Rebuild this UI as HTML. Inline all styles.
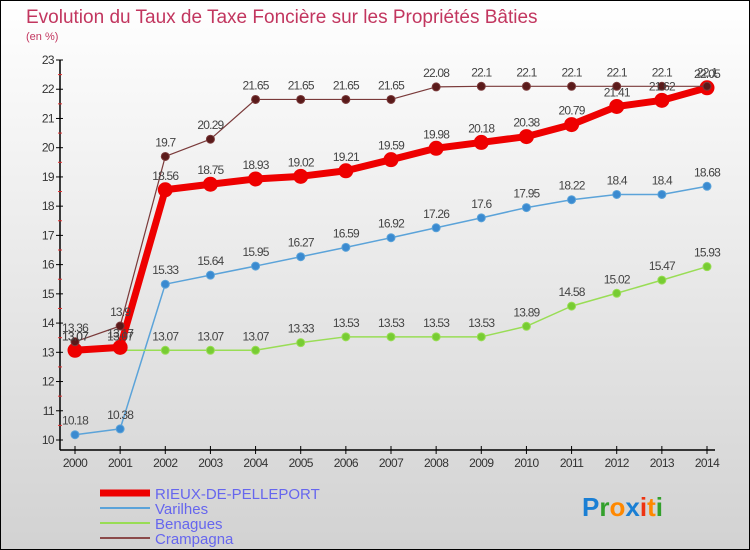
<!DOCTYPE html>
<html><head><meta charset="utf-8"><style>
html,body{margin:0;padding:0;width:750px;height:550px;overflow:hidden}
svg{display:block;font-family:"Liberation Sans",sans-serif}
</style></head><body>
<svg id="c" width="750" height="550">
<defs><linearGradient id="bg" x1="0" y1="0" x2="0" y2="1"><stop offset="0" stop-color="#ffffff"/><stop offset="1" stop-color="#d2d2d2"/></linearGradient></defs>
<rect x="0.5" y="0.5" width="749" height="549" fill="url(#bg)" stroke="#000"/>
<text x="26" y="23" font-size="19" fill="#c2365f">Evolution du Taux de Taxe Foncière sur les Propriétés Bâties</text>
<text x="26" y="40" font-size="11" fill="#c2365f">(en %)</text>
<g id="axes"></g><g id="series"></g><g id="labels"></g>
<g font-size="15" fill="#6666ee">
<line x1="100" y1="493" x2="150" y2="493" stroke="#ee0000" stroke-width="7"/>
<text x="155" y="499">RIEUX-DE-PELLEPORT</text>
<line x1="100" y1="508" x2="150" y2="508" stroke="#5ba3d9" stroke-width="2"/>
<text x="155" y="514">Varilhes</text>
<line x1="100" y1="523" x2="150" y2="523" stroke="#99dd55" stroke-width="2"/>
<text x="155" y="529">Benagues</text>
<line x1="100" y1="538" x2="150" y2="538" stroke="#8b4a4a" stroke-width="2"/>
<text x="155" y="544">Crampagna</text>
</g>
<text x="582" y="516" font-size="26" font-weight="bold"><tspan fill="#1a7fd4">P</tspan><tspan fill="#33a02c">r</tspan><tspan fill="#ff8800">o</tspan><tspan fill="#1a7fd4">x</tspan><tspan fill="#ee3311">i</tspan><tspan fill="#ff8800">t</tspan><tspan fill="#33a02c">i</tspan></text>
</svg>
<script>
const years=[2000,2001,2002,2003,2004,2005,2006,2007,2008,2009,2010,2011,2012,2013,2014];
const rieux=[13.07,13.17,18.56,18.75,18.93,19.02,19.21,19.59,19.98,20.18,20.38,20.79,21.41,21.62,22.05];
const varilhes=[10.18,10.38,15.33,15.64,15.95,16.27,16.59,16.92,17.26,17.6,17.95,18.22,18.4,18.4,18.68];
const benagues=[13.07,13.07,13.07,13.07,13.07,13.33,13.53,13.53,13.53,13.53,13.89,14.58,15.02,15.47,15.93];
const crampagna=[13.36,13.9,19.7,20.29,21.65,21.65,21.65,21.65,22.08,22.1,22.1,22.1,22.1,22.1,22.1];
const yTicks=[10,11,12,13,14,15,16,17,18,19,20,21,22,23];
const NS="http://www.w3.org/2000/svg";
const X=i=>75+i*(707-75)/(years.length-1);
const Y=v=>440-(v-10)*(440-60)/13;
function mk(tag,attrs,parent){const e=document.createElementNS(NS,tag);for(const k in attrs)e.setAttribute(k,attrs[k]);parent.appendChild(e);return e;}
const ax=document.getElementById('axes'),sg=document.getElementById('series'),lg=document.getElementById('labels');
let a=mk('line',{x1:60,y1:60,x2:60,y2:450,stroke:'#000','stroke-width':1.5},ax);


a=mk('line',{x1:60,y1:450,x2:715,y2:450,stroke:'#000','stroke-width':1.5},ax);


yTicks.forEach(t=>{
  mk('line',{x1:56,y1:Y(t),x2:63,y2:Y(t),stroke:'#000'},ax);
  if(t<23)mk('line',{x1:58,y1:Y(t+0.5),x2:62,y2:Y(t+0.5),stroke:'#e03030'},ax);
  const tx=mk('text',{x:54,y:Y(t)+4,'font-size':12,'text-anchor':'end',fill:'#333','letter-spacing':'-0.6'},ax);
  tx.textContent=t;
  
  
});
years.forEach((yr,i)=>{
  mk('line',{x1:X(i),y1:446,x2:X(i),y2:454,stroke:'#000'},ax);
  const tx=mk('text',{x:X(i),y:467,'font-size':12,'text-anchor':'middle',fill:'#333','letter-spacing':'-0.6'},ax);
  tx.textContent=yr;
  
  
});
function series(name,vals,color,w,r,fill){
  const g=mk('g',{},sg);
  
  
  mk('polyline',{points:vals.map((v,i)=>X(i)+','+Y(v)).join(' '),fill:'none',stroke:color,'stroke-width':w,'stroke-linejoin':'round'},g);
  vals.forEach((v,i)=>{
    const c=mk('circle',{cx:X(i),cy:Y(v),r:r,fill:fill,stroke:color,'stroke-width':1},g);
    
    
    const t=mk('text',{x:X(i),y:Y(v)-10,'font-size':12,'text-anchor':'middle',fill:'#444','letter-spacing':'-0.8'},lg);
    t.textContent=v;
    
    
  });
}
series('varilhes',varilhes,'#5ba3d9',1.5,4,'#3a8ad0');
series('benagues',benagues,'#99dd55',1.5,4,'#77cc33');
series('rieux',rieux,'#ee0000',7,7,'#ee0000');
series('crampagna',crampagna,'#7a3a3a',1.2,4,'#5a1a1a');
</script>
</body></html>
